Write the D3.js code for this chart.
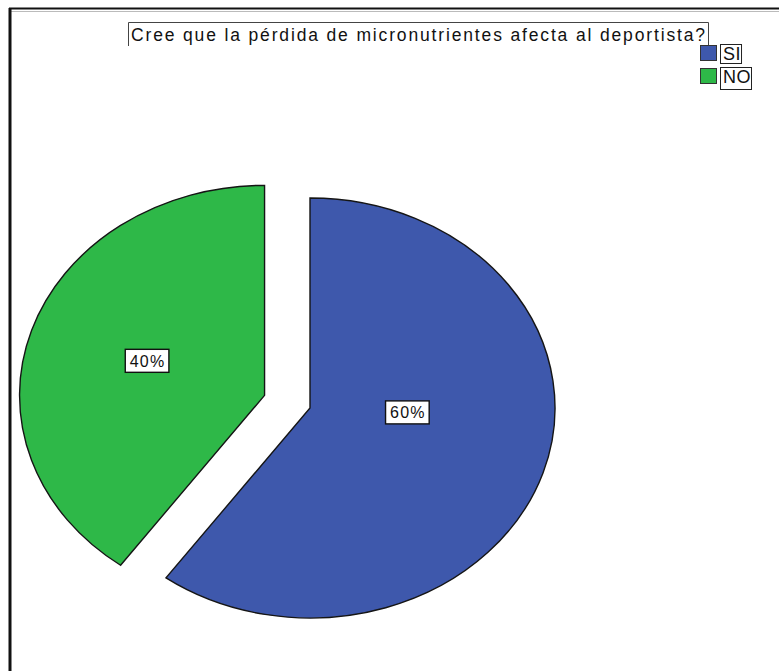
<!DOCTYPE html>
<html>
<head>
<meta charset="utf-8">
<script src="https://cdn.jsdelivr.net/npm/d3@7"></script>
<style>
  html, body { margin: 0; padding: 0; background: #fff; }
  svg { display: block; }
  text { font-family: "Liberation Sans", Arial, sans-serif; }
</style>
</head>
<body>
<svg id="chart" width="779" height="671"></svg>
<script>
// Survey answers and their shares
const title = "Cree que la pérdida de micronutrientes afecta al deportista?";
const categories = ["SI", "NO"];
const percents = [60, 40];
const colors = ["#3e58ac", "#2eb848"];

const W = 779, H = 671;
const svg = d3.select("#chart");

// Outer frame: black rule on top with a faint grey line under it, black rule on the left
svg.append("line").attr("x1", 9).attr("x2", W).attr("y1", 8.5).attr("y2", 8.5)
  .attr("stroke", "#111").attr("stroke-width", 2);
svg.append("line").attr("x1", 11).attr("x2", W).attr("y1", 11.5).attr("y2", 11.5)
  .attr("stroke", "#bbb").attr("stroke-width", 1);
svg.append("line").attr("x1", 10).attr("x2", 10).attr("y1", 8).attr("y2", H)
  .attr("stroke", "#111").attr("stroke-width", 3);

// Title in a thin box, letter-spaced to span its box
const titleText = svg.append("text")
  .attr("x", 131).attr("y", 41)
  .attr("font-size", 17.5).attr("fill", "#111")
  .text(title);
const baseW = titleText.node().getComputedTextLength();
const targetW = 574;
titleText.attr("letter-spacing", Math.max(0, (targetW - baseW) / (title.length - 1)));
const tw = targetW;
svg.insert("path", "text")
  .attr("d", `M128.5,46 V22.5 H${131 + tw + 3.5} V46`)
  .attr("fill", "none").attr("stroke", "#444").attr("stroke-width", 1);

// Pie: elliptical, starting at 12 o'clock, clockwise; the second slice pulled out
const cx = 310, cy = 408, rx = 245, ry = 210;
const explode = [0, 0.195];
const pie = d3.pie().sort(null).startAngle(0).endAngle(2 * Math.PI);
const arcs = pie(percents);
const arc = d3.arc().innerRadius(0).outerRadius(rx);

const slices = svg.append("g").attr("transform", `translate(${cx},${cy}) scale(1,${ry / rx})`);
arcs.forEach((d, i) => {
  const mid = (d.startAngle + d.endAngle) / 2;
  const ox = Math.sin(mid) * explode[i] * rx;
  const oy = -Math.cos(mid) * explode[i] * rx;
  slices.append("path")
    .attr("transform", `translate(${ox},${oy})`)
    .attr("d", arc(d))
    .attr("fill", colors[i])
    .attr("stroke", "#151515")
    .attr("stroke-width", 1.4)
    .attr("vector-effect", "non-scaling-stroke")
    .attr("stroke-linejoin", "miter");
});

// Percentage labels in white boxes (angle in degrees from 12 o'clock, radius as share of rx)
const labelSpots = [{ a: 93, r: 0.40 }, { a: 289, r: 0.505 }];
arcs.forEach((d, i) => {
  const mid = (d.startAngle + d.endAngle) / 2;
  const ox = Math.sin(mid) * explode[i] * rx;
  const oy = -Math.cos(mid) * explode[i] * rx;
  const a = labelSpots[i].a * Math.PI / 180;
  const lx = cx + ox + Math.sin(a) * labelSpots[i].r * rx;
  const ly = cy + (oy - Math.cos(a) * labelSpots[i].r * rx) * ry / rx;
  const g = svg.append("g").attr("transform", `translate(${lx},${ly})`);
  const t = g.append("text").attr("text-anchor", "middle").attr("dy", "0.36em")
    .attr("font-size", 16).attr("letter-spacing", 1.2).attr("fill", "#111")
    .text(percents[i] + "%");
  const w = t.node().getComputedTextLength();
  g.insert("rect", "text")
    .attr("x", -w / 2 - 4.5).attr("y", -11.5).attr("width", w + 8).attr("height", 23)
    .attr("fill", "#fff").attr("stroke", "#111").attr("stroke-width", 1.4);
});

// Legend, top right
const legend = svg.append("g");
categories.forEach((c, i) => {
  const y0 = 45 + i * 23;
  legend.append("rect").attr("x", 700.5).attr("y", y0 + 0.5).attr("width", 16).attr("height", 15)
    .attr("fill", colors[i]).attr("stroke", "#333").attr("stroke-width", 1);
  const t = legend.append("text").attr("x", 723).attr("y", y0 + 14.5)
    .attr("font-size", 18).attr("letter-spacing", 0.5).attr("fill", "#111").text(c);
  const w = t.node().getComputedTextLength();
  legend.insert("rect", "text").attr("x", 720.5).attr("y", y0 - 0.5)
    .attr("width", w + 3).attr("height", 19 + i * 3)
    .attr("fill", "#fff").attr("stroke", "#222").attr("stroke-width", 1);
});
</script>
</body>
</html>
